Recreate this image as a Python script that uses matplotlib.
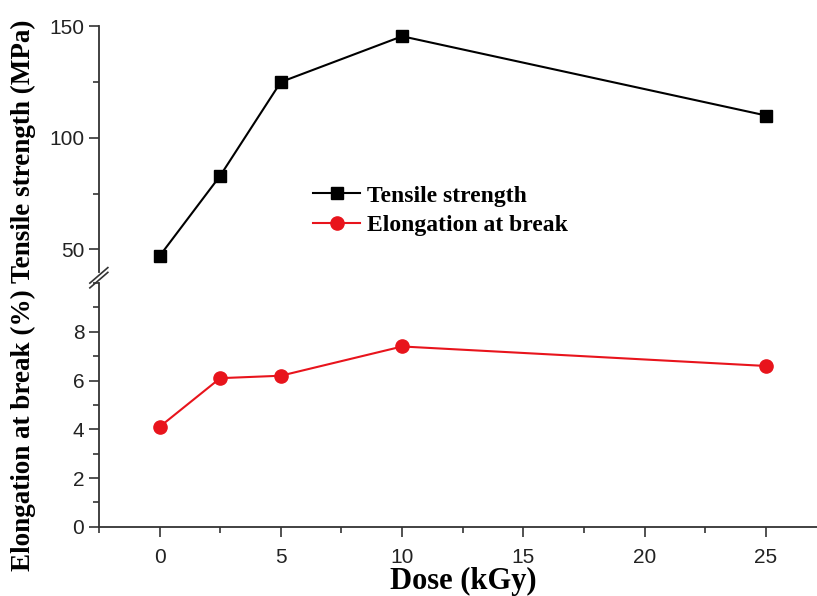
import matplotlib
matplotlib.use('agg')
import matplotlib.pyplot as plt
from matplotlib.ticker import MultipleLocator

# data
dose = [0, 2.5, 5, 10, 25]
tensile = [47, 83, 125, 145.5, 110]
elongation = [4.1, 6.1, 6.2, 7.4, 6.6]

serif = ['Liberation Serif', 'DejaVu Serif']
sans = ['Liberation Sans', 'DejaVu Sans']

fig = plt.figure(figsize=(8.17, 5.96), dpi=100)
ax_top = fig.add_axes([0.121, 0.544, 0.879, 0.412])
ax_bot = fig.add_axes([0.121, 0.116, 0.879, 0.409])

l1, = ax_top.plot(dose, tensile, color='black', marker='s', markersize=8.5, linewidth=1.5,
                  label='Tensile strength')
l2, = ax_bot.plot(dose, elongation, color='#e8141c', marker='o', markersize=9.5, linewidth=1.5,
                  label='Elongation at break')

for ax in (ax_top, ax_bot):
    ax.set_xlim(-2.5, 27.1)
    ax.spines['top'].set_visible(False)
    ax.spines['right'].set_visible(False)
    ax.spines['left'].set_linewidth(1.3)
    ax.spines['bottom'].set_linewidth(1.3)
    ax.spines['left'].set_color('#333333')
    ax.spines['bottom'].set_color('#333333')
    ax.tick_params(which='major', direction='out', length=7, width=1.2, labelsize=15,
                   color='#333333', labelcolor='#222222')
    ax.tick_params(which='minor', direction='out', length=4, width=1.2, color='#333333')

ax_top.set_ylim(40, 150)
ax_top.yaxis.set_major_locator(MultipleLocator(50))
ax_top.yaxis.set_minor_locator(MultipleLocator(25))
ax_top.spines['bottom'].set_visible(False)
ax_top.tick_params(axis='x', which='both', bottom=False, labelbottom=False)

ax_bot.set_ylim(0, 10)
ax_bot.set_yticks([0, 2, 4, 6, 8])
ax_bot.yaxis.set_minor_locator(MultipleLocator(1))
ax_bot.xaxis.set_major_locator(MultipleLocator(5))
ax_bot.xaxis.set_minor_locator(MultipleLocator(2.5))
ax_bot.tick_params(axis='x', which='major', pad=8)
for lab in ax_bot.get_yticklabels() + ax_bot.get_xticklabels() + ax_top.get_yticklabels():
    lab.set_family(sans)

# break marks on the left spine
d = 0.011
for y0 in (0.538, 0.530):
    fig.add_artist(plt.Line2D([0.121 - d, 0.121 + d], [y0 - 0.013, y0 + 0.013],
                              color='#333333', linewidth=1.2))

fig.text(0.567, 0.012, 'Dose (kGy)', ha='center', va='baseline',
         family=serif, fontweight='bold', fontsize=22)
fig.text(0.029, 0.505, 'Elongation at break (%) Tensile strength (MPa)', rotation=90,
         ha='center', va='center', family=serif, fontweight='bold', fontsize=19.5)

fig.legend(handles=[l1, l2], loc='upper left', bbox_to_anchor=(0.357, 0.725), frameon=False,
           prop={'family': serif, 'weight': 'bold', 'size': 17}, handlelength=2.0,
           handletextpad=0.3, labelspacing=0.35)

fig.savefig('out.png', dpi=100)
